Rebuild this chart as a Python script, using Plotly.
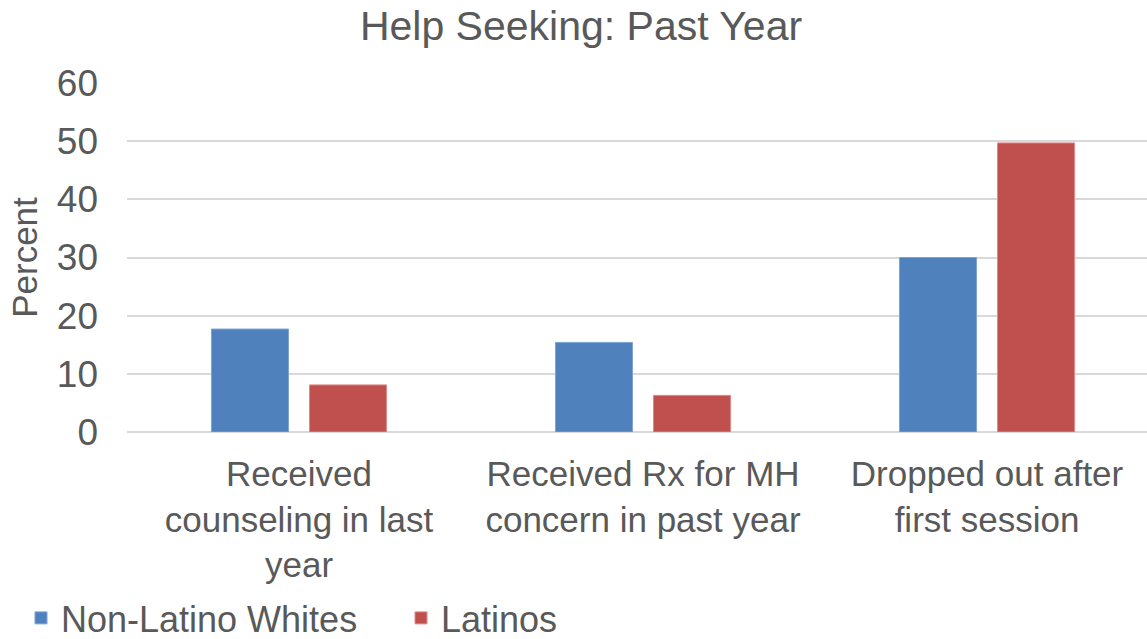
import plotly.graph_objects as go

# Help seeking in the past year, by ethnic group (percent)
categories = [
    "Received<br>counseling in last<br>year",
    "Received Rx for MH<br>concern in past year",
    "Dropped out after<br>first session",
]
non_latino_whites = [17.7, 15.4, 30.0]
latinos = [8.1, 6.3, 49.7]
y_ticks = [0, 10, 20, 30, 40, 50, 60]

TEXT = "#595959"
FONT = "Liberation Sans, Arial, sans-serif"
BLUE = "#4F81BD"
RED = "#C0504D"

fig = go.Figure()
fig.add_trace(go.Bar(
    name="Non-Latino Whites", x=categories, y=non_latino_whites,
    marker=dict(color=BLUE, line=dict(color="#7FA3D4", width=1)),
))
fig.add_trace(go.Bar(
    name="Latinos", x=categories, y=latinos,
    marker=dict(color=RED, line=dict(color="#E08A88", width=1)),
))

fig.update_layout(
    width=1147, height=639,
    paper_bgcolor="white", plot_bgcolor="white",
    margin=dict(l=127, r=0, t=82.5, b=206.7),
    font=dict(family=FONT, color=TEXT, size=36),
    barmode="group", bargap=0.43, bargroupgap=0.214,
    title=dict(
        text="Help Seeking: Past Year",
        font=dict(size=41, color=TEXT, family=FONT),
        xref="container", x=581 / 1147, xanchor="center",
        yref="container", y=1 - 11 / 639, yanchor="top",
    ),
    legend=dict(
        orientation="h",
        xref="container", x=21 / 1147, xanchor="left",
        yref="container", y=(639 - 618) / 639, yanchor="middle",
        font=dict(size=36, color=TEXT, family=FONT),
        entrywidth=335, entrywidthmode="pixels",
        bgcolor="rgba(0,0,0,0)",
    ),
    xaxis=dict(
        range=[-0.5, 2.465],
        showgrid=False, showline=False, ticks="",
        tickfont=dict(size=35, color=TEXT, family=FONT),
        ticklabelstandoff=18,
    ),
    yaxis=dict(
        range=[0, 60], tickvals=y_ticks,
        showgrid=True, gridcolor="#D9D9D9", gridwidth=1.5,
        zeroline=True, zerolinecolor="#D9D9D9", zerolinewidth=1.5,
        showline=False, ticks="",
        tickfont=dict(size=37, color=TEXT, family=FONT),
        ticklabelstandoff=28,
        title=dict(text="Percent", font=dict(size=35, color=TEXT, family=FONT), standoff=8),
    ),
)

fig.write_html("out.html")
